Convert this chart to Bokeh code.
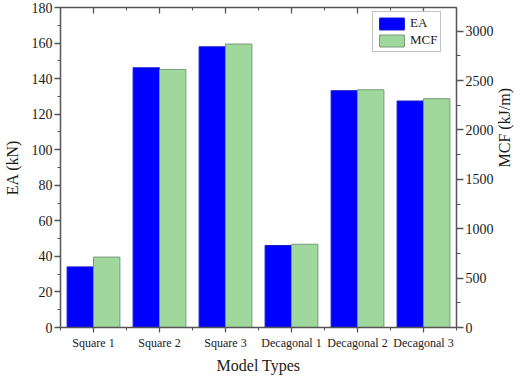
import math
from bokeh.plotting import figure
from bokeh.models import (FactorRange, Range1d, LinearAxis, SingleIntervalTicker,
                          FixedTicker, CustomJSTickFormatter, ColumnDataSource,
                          Legend, LegendItem)
from bokeh.transform import dodge
from bokeh.embed import file_html
from bokeh.resources import INLINE

# ---- data ----
categories = ["Square 1", "Square 2", "Square 3", "Decagonal 1", "Decagonal 2", "Decagonal 3"]
ea_values = [34.1, 146.1, 157.9, 46.1, 133.2, 127.4]          # kN
mcf_values = [713, 2613, 2870, 843, 2407, 2317]               # kJ/m
center_ticks = [0.5, 1.5, 2.5, 3.5, 4.5, 5.5]
boundary_ticks = [0, 1, 2, 3, 4, 5, 6]

FONT = "Liberation Serif"
AXIS_COLOR = "#555555"
TEXT_COLOR = "#1a1a1a"
BLUE = "#0000ff"
GREEN = "#9fd79c"

src = ColumnDataSource(dict(cat=categories, ea=ea_values, mcf=mcf_values))

p = figure(x_range=FactorRange(*categories), y_range=Range1d(0, 180),
           width=524, height=376, output_backend="svg", toolbar_location=None,
           x_axis_location=None, y_axis_location=None,
           min_border_left=60, min_border_right=63, min_border_top=7, min_border_bottom=47)
p.extra_y_ranges = {"mcf": Range1d(0, 3240)}
p.xgrid.visible = False
p.ygrid.visible = False
p.outline_line_color = None
p.background_fill_color = "white"
p.border_fill_color = "white"

r_ea = p.vbar(x=dodge("cat", -0.2, range=p.x_range), top="ea", width=0.4, source=src,
              fill_color=BLUE, line_color="#1a1acc", line_width=1)
r_mcf = p.vbar(x=dodge("cat", 0.2, range=p.x_range), top="mcf", width=0.4, source=src,
               y_range_name="mcf", fill_color=GREEN, line_color="#7a9a7a", line_width=1)

def style(ax):
    ax.axis_line_color = AXIS_COLOR
    ax.axis_line_width = 1.5
    ax.major_tick_line_color = AXIS_COLOR
    ax.minor_tick_line_color = AXIS_COLOR
    ax.major_tick_line_width = 1.3
    ax.minor_tick_line_width = 1.1
    ax.major_label_text_font = FONT
    ax.major_label_text_color = TEXT_COLOR
    ax.axis_label_text_font = FONT
    ax.axis_label_text_font_style = "normal"
    ax.axis_label_text_color = TEXT_COLOR

names_fmt = CustomJSTickFormatter(args=dict(names=categories),
                                  code="return names[Math.floor(tick)];")
blank_fmt = CustomJSTickFormatter(code="return '';")

# bottom axis
xb = LinearAxis(ticker=FixedTicker(ticks=center_ticks, minor_ticks=boundary_ticks),
                formatter=names_fmt, axis_label="Model Types")
style(xb)
xb.major_tick_in = 0
xb.major_tick_out = 5
xb.minor_tick_in = 0
xb.minor_tick_out = 3
xb.major_label_text_font_size = "12px"
xb.major_label_standoff = 3
xb.axis_label_text_font_size = "16px"
xb.axis_label_standoff = 4
p.add_layout(xb, "below")

# top axis (mirror)
xt = LinearAxis(ticker=FixedTicker(ticks=center_ticks, minor_ticks=boundary_ticks),
                formatter=blank_fmt)
style(xt)
xt.major_tick_in = 6
xt.major_tick_out = 0
xt.minor_tick_in = 3
xt.minor_tick_out = 0
xt.major_label_text_font_size = "0px"
xt.major_label_standoff = 0
p.add_layout(xt, "above")

# left axis
yl = LinearAxis(ticker=SingleIntervalTicker(interval=20, num_minor_ticks=2), axis_label="EA (kN)")
style(yl)
yl.major_tick_in = 0
yl.major_tick_out = 6
yl.minor_tick_in = 0
yl.minor_tick_out = 3
yl.major_label_text_font_size = "14px"
yl.major_label_standoff = 2
yl.axis_label_text_font_size = "16px"
yl.axis_label_standoff = 8
p.add_layout(yl, "left")

# right axis
yr = LinearAxis(y_range_name="mcf", ticker=SingleIntervalTicker(interval=500, num_minor_ticks=2),
                axis_label="MCF (kJ/m)")
style(yr)
yr.major_tick_in = 0
yr.major_tick_out = 7
yr.minor_tick_in = 0
yr.minor_tick_out = 4
yr.major_label_text_font_size = "14px"
yr.major_label_standoff = 2
yr.axis_label_text_font_size = "16px"
yr.axis_label_standoff = 8
yr.axis_label_orientation = math.pi / 2
p.add_layout(yr, "right")

legend = Legend(items=[LegendItem(label="EA", renderers=[r_ea]),
                       LegendItem(label="MCF", renderers=[r_mcf])],
                location=(312, 275), orientation="vertical",
                glyph_width=31, glyph_height=15, label_standoff=3, spacing=1,
                padding=3, margin=0,
                label_text_font=FONT, label_text_font_size="13px", label_text_color=TEXT_COLOR,
                label_height=15,
                border_line_color="#888888", border_line_width=1,
                background_fill_color="white", background_fill_alpha=1)
p.add_layout(legend, "center")

open("out.html", "w").write(file_html(p, INLINE))
